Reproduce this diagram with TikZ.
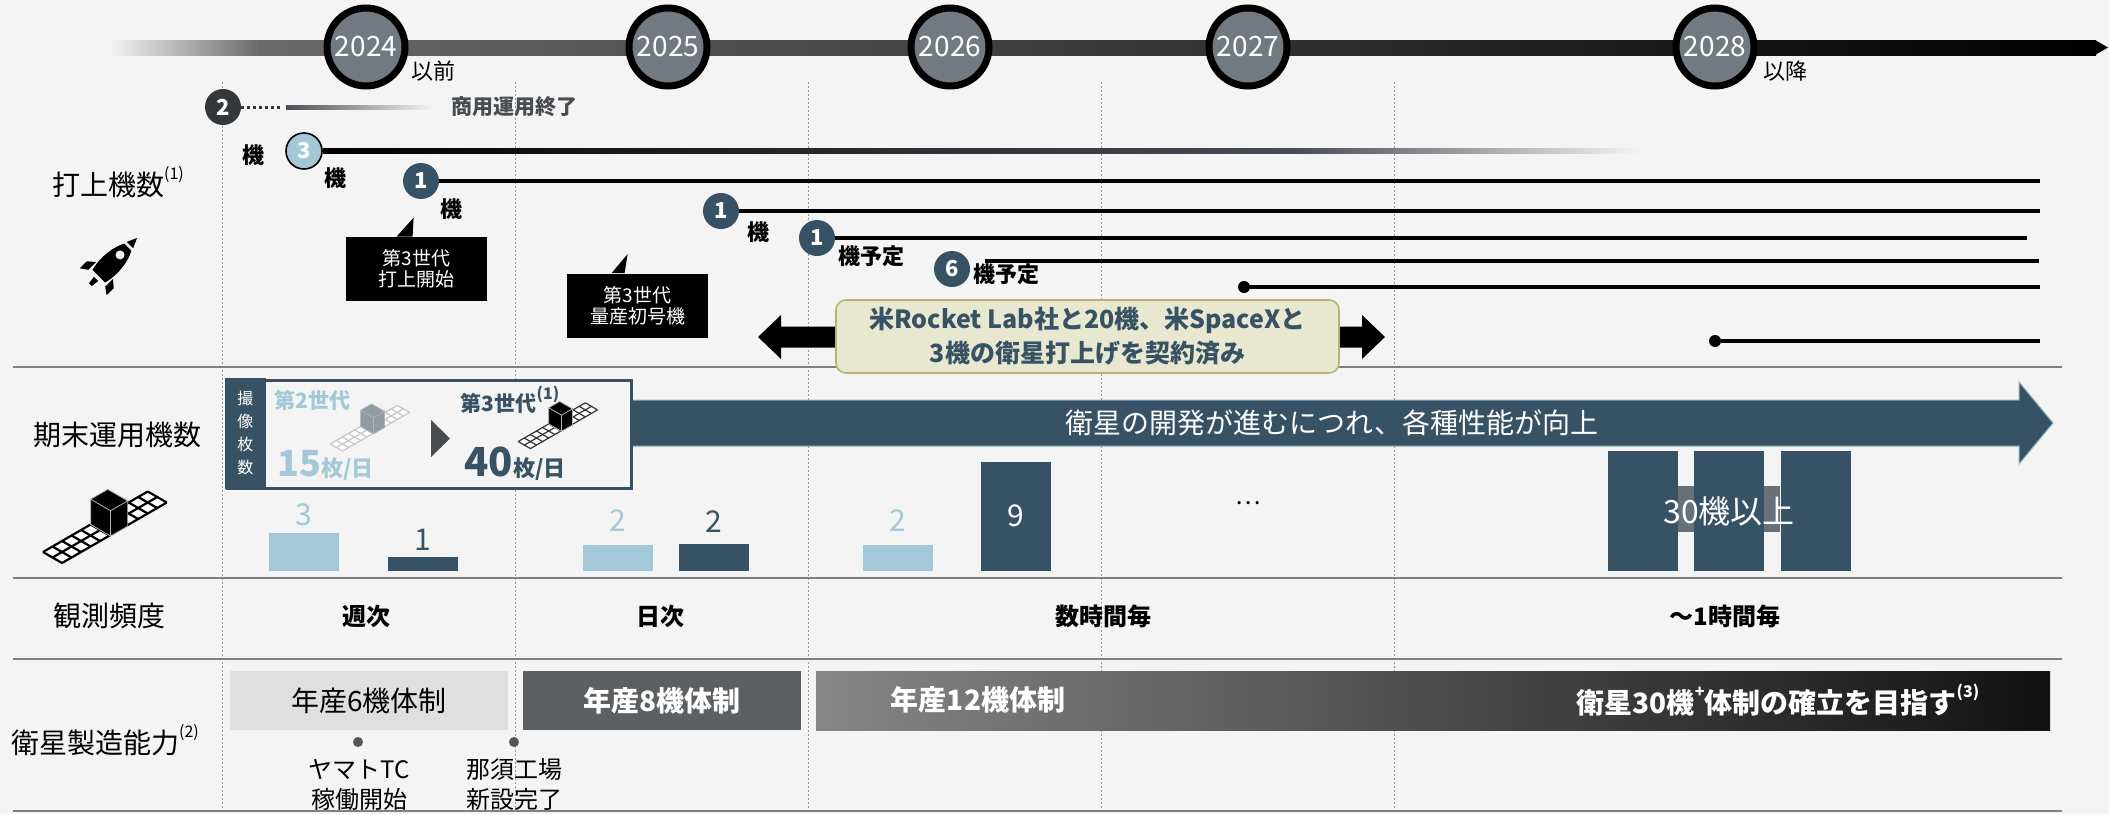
\documentclass[tikz,border=0pt]{standalone}
\usepackage{fontspec}
\setmainfont{Noto Sans CJK JP}
\usetikzlibrary{positioning}

\definecolor{bg}{HTML}{F4F4F4}
\definecolor{slate}{HTML}{375264}
\definecolor{sky}{HTML}{A3C9D8}
\definecolor{yearfill}{HTML}{737980}
\definecolor{ink}{HTML}{34383C}
\definecolor{sand}{HTML}{E8E8D0}
\definecolor{olive}{HTML}{B5B56E}
\definecolor{rule}{HTML}{808080}
\definecolor{barmid}{HTML}{6A6A6A}
\definecolor{fade}{HTML}{4A4F55}

\newcommand\fsz[1]{\fontsize{#1}{#1}\selectfont}
\newcommand\supnote[1]{\raisebox{0.55em}{\fsz{8}#1}}

% small isometric satellite: #1 body colour, #2 panel colour
\tikzset{
  sat line/.style={line width=1.1pt},
  pics/sat/.style 2 args={code={
    \begin{scope}[shift={(-66,-23.5)}, x={(4.76pt,2.75pt)}, y={(4.76pt,-2.75pt)}]
      \fill[white] (0,0) -- (11,0) -- (11,2) -- (0,2) -- cycle;
      \foreach \i in {0,...,11} \draw[#2, sat line] (\i,0) -- (\i,2);
      \foreach \j in {0,1,2} \draw[#2, sat line] (0,\j) -- (11,\j);
      \filldraw[fill=#1, draw=gray!60, line width=0.4pt]
        (5,0) -- (5,2.1) -- (7.3,-0.2) -- (7.3,-2.3) -- cycle
        (5,2.1) -- (6.8,2.1) -- (9.1,-0.2) -- (7.3,-0.2) -- cycle
        (7.3,-2.3) -- (7.3,-0.2) -- (9.1,-0.2) -- (9.1,-2.3) -- cycle;
    \end{scope}
  }}
}

\begin{document}
\begin{tikzpicture}[x=0.5pt, y=0.5pt,
  year/.style={circle, draw=black, line width=3.5pt, fill=yearfill, text=white,
    minimum size=39pt, inner sep=0pt, font=\fsz{14}},
  num/.style={circle, fill=slate, text=white, minimum size=18pt, inner sep=0pt,
    font=\bfseries\fsz{11}},
  ki/.style={font=\bfseries\fsz{11}, inner sep=0pt},
  launch/.style={line width=2pt},
  dot/.style={circle, fill=black, minimum size=6pt, inner sep=0pt},
  callout/.style={fill=black, text=white, align=center, minimum width=70.5pt,
    minimum height=32pt, inner sep=0pt, font=\fontsize{9.5}{10.5}\selectfont},
  rowlabel/.style={font=\fsz{14}},
  sep/.style={draw=rule, line width=1pt},
  vline/.style={draw=gray!80, line width=0.4pt, dash pattern=on 1pt off 1pt},
  bar/.style={minimum width=35pt, anchor=south, inner sep=0pt},
  lbar/.style={bar, fill=sky},
  dbar/.style={bar, fill=slate},
  val/.style={font=\fsz{15}, inner sep=0pt},
  freq/.style={font=\bfseries\fsz{12}},
  prod/.style={minimum width=139pt, minimum height=29.5pt, inner sep=0pt, font=\fsz{14}},
  mdot/.style={circle, fill=ink!85, minimum size=5pt, inner sep=0pt},
  note/.style={align=center, font=\fontsize{12}{15}\selectfont}]

\fill[bg] (0,0) rectangle (2109,-814);
\useasboundingbox (0,0) rectangle (2109,-814);

% grid of the table
\foreach \x in {222,515,808,1101,1394}
  \draw[vline] (\x,-82) -- (\x,-812);
\foreach \y in {367,578,659,811}
  \draw[sep] (13,-\y) -- (2062,-\y);

% time axis
\shade[left color=bg, right color=barmid] (110,-40) rectangle (260,-55);
\shade[left color=barmid, right color=black] (259,-40) rectangle (2096,-55);
\fill[black] (2095,-40) -- (2108,-47.5) -- (2095,-55) -- cycle;
\foreach \yr/\x in {2024/366, 2025/668, 2026/950, 2027/1248, 2028/1715}
  \node[year] (y\yr) at (\x,-47) {\yr};
\node[font=\fsz{11}] at (433,-71) {以前};
\node[font=\fsz{11}] at (1785,-71) {以降};

% row labels
\node[rowlabel] (lLaunch) at (118,-182) {打上機数\supnote{(1)}};
\node[rowlabel] (lFleet) at (117,-435) {期末運用機数};
\node[rowlabel] (lFreq) at (109,-616) {観測頻度};
\node[rowlabel] (lProd) at (105,-740) {衛星製造能力\supnote{(2)}};

% rocket
\begin{scope}[shift={(113,-262)}, rotate=-45]
  \fill (-9,-20) .. controls (-13,-4) and (-10,12) .. (-5,21) -- (5,21)
    .. controls (10,12) and (13,-4) .. (9,-20) -- cycle;
  \fill (-4.5,24) .. controls (-3,29) .. (0,34) .. controls (3,29) .. (4.5,24) -- cycle;
  \fill[bg] (0,10) circle (4.5);
  \fill (-12,-12) -- (-19,-18) -- (-19,-28) -- (-12,-23) -- cycle;
  \fill (12,-12) -- (19,-18) -- (19,-28) -- (12,-23) -- cycle;
  \fill (-3,-24) -- (3,-24) -- (2,-32) -- (-2,-32) -- cycle;
\end{scope}

% satellite
\pic at (109,-528.5) {sat={black}{black}};

% launches
\coordinate (lend) at (2040,0);
\node[num, fill=ink] (c2) at (223,-107) {2};
\draw[ink, line width=1.5pt, dash pattern=on 1.5pt off 1.5pt] (c2) -- (281,-107);
\shade[left color=fade, right color=bg] (286,-105) rectangle (433,-109);
\node[font=\bfseries\fsz{10.5}, text=ink!90] at (514,-107) {商用運用終了};

\node[num, fill=sky, draw=black, line width=0.8pt] (c3) at (304,-151) {3};
\shade[left color=black, right color=fade] (c3.east) ++(0,2.5) rectangle (1300,-153.5);
\shade[left color=fade, right color=bg] (1299,-148.5) rectangle (1640,-153.5);

\node[num] (c1a) at (421,-181) {1};
\node[num] (c1b) at (721,-211) {1};
\node[num] (c1c) at (817,-238) {1};
\node[num] (c6) at (952,-269) {6};
\coordinate (s6) at (985,-261);
\coordinate (e6) at (2039,-261);
\coordinate (e1c) at (2027,-238);
\draw[launch] (c1a) -- (c1a -| lend);
\draw[launch] (c1b) -- (c1b -| lend);
\draw[launch] (c1c) -- (e1c);
\draw[launch] (s6) -- (e6);
\node[dot] (d1) at (1244,-287) {};
\node[dot] (d2) at (1715,-341) {};
\draw[launch] (d1) -- (d1 -| lend);
\draw[launch] (d2) -- (d2 -| lend);

\node[ki] at (253,-155) {機};
\node[ki] at (335,-178) {機};
\node[ki] at (451,-209) {機};
\node[ki] at (758,-232) {機};
\node[ki] at (871,-256) {機予定};
\node[ki] at (1006,-274) {機予定};

\node[callout] (co1) at (416.5,-269) {第3世代\\打上開始};
\fill (co1.north west) ++(51,0) -- ++(17,19) -- ++(-1,-19) -- cycle;
\node[callout] (co2) at (637.5,-305.5) {第3世代\\量産初号機};
\fill (co2.north west) ++(45,0) -- ++(16,19) -- ++(-3,-19) -- cycle;

% contracts
\fill (758,-337) -- (781,-315) -- (781,-326.5) -- (1362,-326.5) -- (1362,-315)
  -- (1385,-337) -- (1362,-359) -- (1362,-347.5) -- (781,-347.5) -- (781,-359) -- cycle;
\node[fill=sand, draw=olive, line width=0.8pt, rounded corners=5pt,
  minimum width=251.5pt, minimum height=36.5pt, inner sep=0pt, align=center,
  text=slate, font=\bfseries\fontsize{12.5}{17}\selectfont] (deal) at (1087.5,-336.5)
  {米Rocket Lab社と20機、米SpaceXと\\3機の衛星打上げを契約済み};

% fleet
\fill[slate, draw=sky!80!slate, line width=0.5pt] (620,-400) -- (2019,-400) -- (2019,-382)
  -- (2053,-423) -- (2019,-464) -- (2019,-446) -- (620,-446) -- cycle;
\node[text=white, font=\fsz{14}] at (1332,-423) {衛星の開発が進むにつれ、各種性能が向上};

\node[draw=slate, line width=1.5pt, fill=bg, minimum width=202pt, minimum height=54pt,
  inner sep=0pt] (info) at (429.5,-434.5) {};
\node[fill=slate, text=white, anchor=north west, minimum width=20.5pt, minimum height=55.5pt,
  inner sep=0pt, align=center, font=\fontsize{8}{11.5}\selectfont] (strip)
  at ([xshift=-0.75pt, yshift=0.75pt]info.north west) {撮\\像\\枚\\数};
\node[text=sky, font=\bfseries\fsz{10.5}] at (312.5,-400) {第2世代};
\pic[scale=0.64, sat line/.style={line width=0.6pt}] at (372.5,-429) {sat={sky!40!gray}{gray!45}};
\node[anchor=base west, inner sep=0pt, text=sky, font=\bfseries] at (277,-476)
  {\fsz{18}15\fsz{11}枚/日};
\fill[ink!90] (431,-420) -- (450,-438.5) -- (431,-457) -- cycle;
\node[text=slate, font=\bfseries\fsz{10.5}] at (510,-400) {第3世代\supnote{(1)}};
\pic[scale=0.64, sat line/.style={line width=0.6pt}] at (560.5,-426.5) {sat={black}{black!80}};
\node[anchor=base west, inner sep=0pt, text=slate, font=\bfseries] at (464,-476)
  {\fsz{20}40\fsz{11}枚/日};

\node[lbar, minimum height=19pt] (b1) at (304,-571) {};
\node[dbar, minimum height=7pt] (b2) at (423,-571) {};
\node[lbar, minimum height=13pt] (b3) at (617.5,-571) {};
\node[dbar, minimum height=13.5pt] (b4) at (713.5,-571) {};
\node[lbar, minimum height=13pt] (b5) at (897.5,-571) {};
\node[dbar, minimum height=54.5pt] (b6) at (1016,-571) {};
\node[val, text=sky, above=3pt of b1] {3};
\node[val, text=slate, above=2.5pt of b2] {1};
\node[val, text=sky, above=6pt of b3] {2};
\node[val, text=slate, above=5pt of b4] {2};
\node[val, text=sky, above=6pt of b5] {2};
\node[val, text=white] at (b6) {9};
\node[font=\fsz{12}] at (1248,-503) {…};

\fill[yearfill!80!slate] (1678,-486) rectangle (1780,-532);
\node[dbar, minimum height=60pt] (b7) at (1642.5,-571) {};
\node[dbar, minimum height=60pt] (b8) at (1729,-571) {};
\node[dbar, minimum height=60pt] (b9) at (1815.5,-571) {};
\node[text=white, font=\fsz{16}] at (1729,-511) {30機以上};

% observation frequency
\node[freq] at (366,-616) {週次};
\node[freq] at (660,-616) {日次};
\node[freq] at (1103,-616) {数時間毎};
\node[freq] at (1725,-616) {～1時間毎};

% production
\node[prod, fill=gray!25] (p6) at (369,-700.5) {年産6機体制};
\node[prod, fill=ink!80, text=white, font=\bfseries\fsz{14}] (p8) at (662,-700.5) {年産8機体制};
\node[prod, minimum width=617pt, left color=gray!95, middle color=gray!75!black,
  right color=black!93] (p30) at (1433,-701) {};
\node[text=white, font=\bfseries\fsz{14}] at (978,-700) {年産12機体制};
\node[text=white, font=\bfseries\fsz{14}] at (1778,-700)
  {衛星30機\supnote{+}体制の確立を目指す\supnote{(3)}};

\node[mdot] (m1) at (358,-742) {};
\node[mdot] (m2) at (514,-742) {};
\node[note] at (359,-785) {ヤマトTC\\稼働開始};
\node[note] at (514,-785) {那須工場\\新設完了};
\end{tikzpicture}
\end{document}
